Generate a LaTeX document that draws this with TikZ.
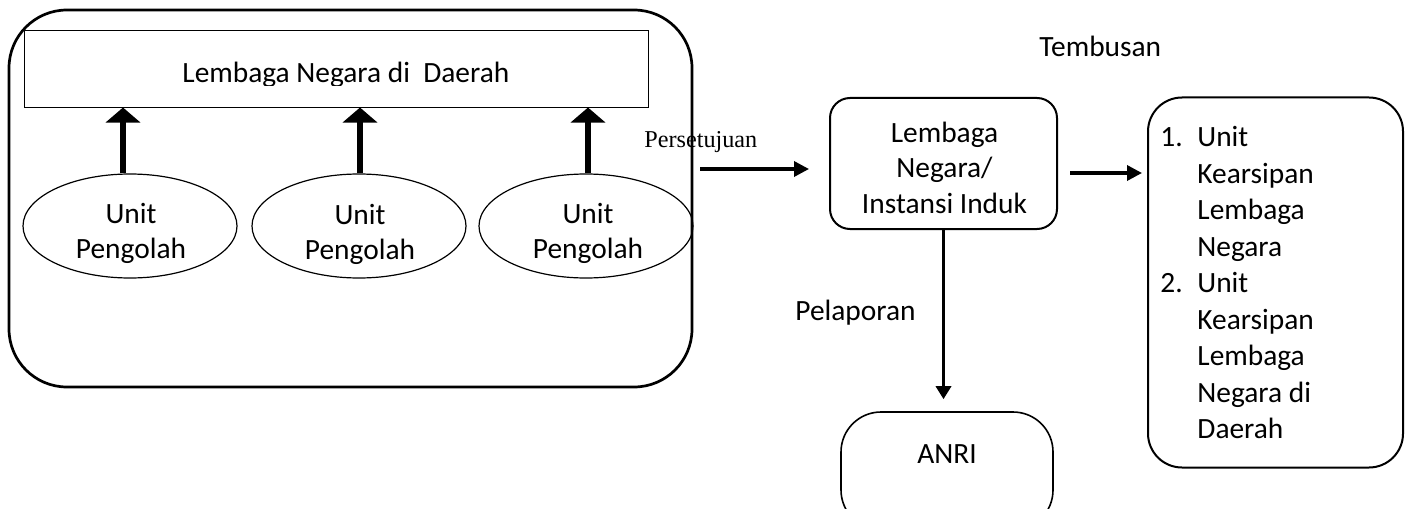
\documentclass[tikz,border=0pt]{standalone}
\usepackage{fontspec}
\setmainfont{Carlito}
\newfontfamily\tnr{Liberation Serif}
\usetikzlibrary{arrows.meta,shapes.geometric,calc}

\begin{document}
\begin{tikzpicture}[x=0.5pt,y=-0.5pt,
  cal/.style={font=\fontsize{14.7}{#1}\selectfont, inner sep=0pt},
  cal/.default=17.5pt,
  box/.style={draw, line width=1pt, rounded corners=#1, inner sep=0pt},
  unit/.style={draw, ellipse, line width=0.6pt, minimum width=107pt, minimum height=52pt, inner sep=0pt},
  bigup/.style={line width=2.8pt, -{Triangle[width=17pt,length=7.5pt]}},
  flow/.style={line width=1.7pt, -{Triangle[width=7.5pt,length=7.5pt]}},
]
\clip (0,0) rectangle (1411,508);

% regional office frame
\node[box=29pt, line width=1.35pt, minimum width=341.5pt, minimum height=188.5pt] (outer) at (350.5,198.5) {};
\node[draw, line width=0.5pt, minimum width=312pt, minimum height=38pt, inner sep=0pt] (lnd) at (336,69) {};
\begin{scope}
  \clip (lnd.north west) rectangle (648,86);
  \node[cal, anchor=base west] (lndtext) at (182,83) {Lembaga Negara di\ \ Daerah};
\end{scope}

% processing units
\node[unit] (u1) at (130,226) {};
\node[unit] (u2) at (359,226) {};
\node[unit] (u3) at (586,226) {};
\node[cal, anchor=base] (t1) at (131,223) {\begin{tabular}[t]{@{}c@{}}Unit\\Pengolah\end{tabular}};
\node[cal, anchor=base] (t2) at (360,224) {\begin{tabular}[t]{@{}c@{}}Unit\\Pengolah\end{tabular}};
\node[cal, anchor=base] (t3) at (588,223) {\begin{tabular}[t]{@{}c@{}}Unit\\Pengolah\end{tabular}};

\draw[bigup] ([xshift=-3.5pt]u1.north) -- ([xshift=-3.5pt]u1.north |- lnd.south);
\draw[bigup] ([xshift=0.5pt]u2.north) -- ([xshift=0.5pt]u2.north |- lnd.south);
\draw[bigup] ([xshift=1pt]u3.north) -- ([xshift=1pt]u3.north |- lnd.south);

% parent institution
\node[box=10pt, minimum width=113.5pt, minimum height=65.5pt] (mid) at (943.5,163.5) {};
\node[cal=17.75pt, anchor=base] (midtext) at (944.5,142) {\begin{tabular}[t]{@{}c@{}}Lembaga\\Negara/\\Instansi Induk\end{tabular}};

% copies
\node[box=17pt, minimum width=127.5pt, minimum height=185pt] (rb) at (1275.5,282.5) {};
\node[cal=18.25pt, anchor=north west, align=left] (rbtext) at (1160,126)
  {\makebox[18.5pt][l]{1.}Unit\\
   \hspace*{18.5pt}Kearsipan\\
   \hspace*{18.5pt}Lembaga\\
   \hspace*{18.5pt}Negara\\
   \makebox[18.5pt][l]{2.}Unit\\
   \hspace*{18.5pt}Kearsipan\\
   \hspace*{18.5pt}Lembaga\\
   \hspace*{18.5pt}Negara di\\
   \hspace*{18.5pt}Daerah};

% national archive
\node[box=20pt, line width=0.8pt, minimum width=106pt, minimum height=59pt] (anri) at (947,471) {};
\node[cal, anchor=base] (anritext) at (947,463) {ANRI};

% flow labels
\node[cal, anchor=base west] (tembusan) at (1039,57) {Tembusan};
\node[cal, anchor=base west] (pelaporan) at (795,320) {Pelaporan};
\node[font=\tnr\fontsize{12.1}{14}\selectfont, inner sep=0pt, anchor=base west] (persetujuan) at (644,147) {Persetujuan};

% flows between offices
\draw[flow] ($(outer.east |- mid.west)+(7,5.5)$) -- ($(mid.west)+(-20,5.5)$);
\draw[flow] ($(mid.east)+(12,9.5)$) -- ($(mid.east -| rb.west)+(-5,9.5)$);
\draw[line width=1.8pt, -{Triangle[width=7.5pt,length=6.5pt]}] (mid.south) -- ($(mid.south |- anri.north)+(0,-12)$);
\end{tikzpicture}
\end{document}
